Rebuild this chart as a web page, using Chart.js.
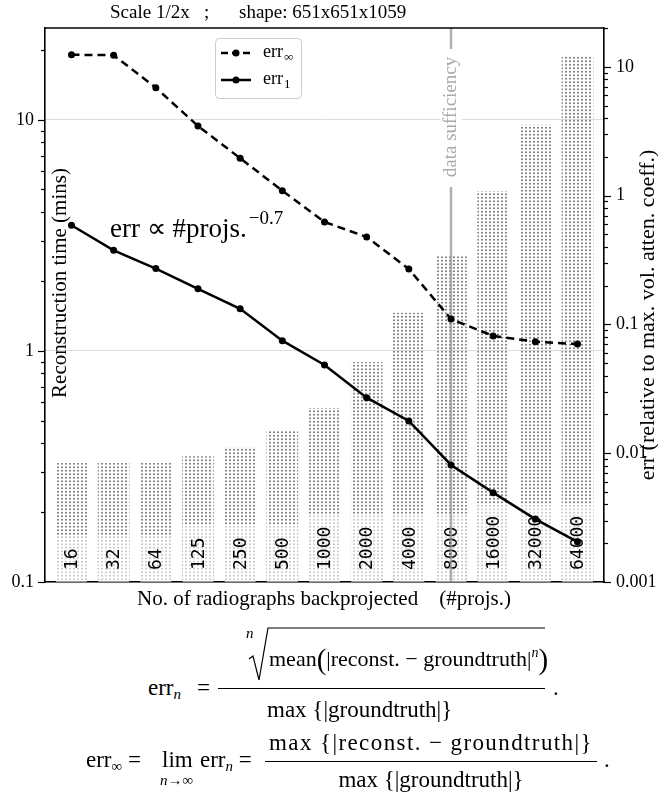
<!DOCTYPE html>
<html>
<head>
<meta charset="utf-8">
<script src="https://cdn.jsdelivr.net/npm/chart.js@4.4.0/dist/chart.umd.min.js"></script>
<style>
  html, body { margin: 0; padding: 0; background: #fff; }
  body { width: 658px; height: 794px; position: relative; overflow: hidden; font-family: "Liberation Serif", serif; color: #000; }
  #wrap { position: absolute; left: 0; top: 0; width: 658px; height: 615px; }
  .t { position: absolute; font-size: 23px; line-height: 23px; white-space: nowrap; }
  .t sub { font-size: 15px; vertical-align: -4px; line-height: 0; }
  .t sup { font-size: 14px; vertical-align: 9px; line-height: 0; }
  .sm { font-size: 15px; line-height: 15px; }
  .big { font-size: 29px; vertical-align: -3px; line-height: 0; }
  .c { text-align: center; }
  .bar { position: absolute; height: 1px; background: #000; }
</style>
</head>
<body>
<div id="wrap"><canvas id="chart" width="658" height="615"></canvas></div>

<!-- err_n definition -->
<span class="t" style="left:148px; top:676px;">err<sub><i>n</i></sub></span>
<span class="t" style="left:197px; top:676px;">=</span>
<svg style="position:absolute; left:0; top:0;" width="658" height="794">
  <polyline points="249,659 253,656 259,680 268,628 545,628" fill="none" stroke="#000" stroke-width="1.2"/>
</svg>
<span class="t sm" style="left:246px; top:626px;"><i>n</i></span>
<span class="t" style="left:269px; top:647px; font-size:22px;">mean<span class="big">(</span>|reconst. − groundtruth|<sup><i>n</i></sup><span class="big">)</span></span>
<div class="bar" style="left:218px; top:688px; width:327px;"></div>
<span class="t" style="left:267px; top:698px;">max {|groundtruth|}</span>
<span class="t" style="left:553px; top:676px;">.</span>

<!-- err_inf definition -->
<span class="t" style="left:86px; top:748px;">err<sub>∞</sub> =</span>
<span class="t" style="left:162px; top:748px;">lim</span>
<span class="t sm" style="left:160px; top:773px;"><i>n</i>→∞</span>
<span class="t" style="left:200px; top:748px;">err<sub><i>n</i></sub> =</span>
<div class="t c" style="left:265px; top:731px; width:332px; letter-spacing:1.4px;">max {|reconst. − groundtruth|}</div>
<div class="bar" style="left:265px; top:761px; width:332px;"></div>
<div class="t c" style="left:265px; top:768px; width:332px;">max {|groundtruth|}</div>
<span class="t" style="left:604px; top:748px;">.</span>

<script>
// ---------- chart values ----------
const projCounts = ['16', '32', '64', '125', '250', '500', '1000', '2000', '4000', '8000', '16000', '32000', '64000'];
const reconTimeMins = [0.327, 0.327, 0.327, 0.349, 0.383, 0.451, 0.565, 0.893, 1.46, 2.58, 4.90, 9.5, 18.8];
const errInf = [12.4, 12.3, 6.88, 3.47, 1.95, 1.09, 0.624, 0.477, 0.269, 0.110, 0.0813, 0.0734, 0.0704];
const errOne = [0.588, 0.376, 0.271, 0.189, 0.132, 0.0748, 0.0484, 0.027, 0.0178, 0.0081, 0.00494, 0.00308, 0.00205];
const leftTicks = [0.1, 1, 10];
const rightTicks = [0.001, 0.01, 0.1, 1, 10];
const sufficiencyIndex = 9;   // the 8000 column

const serif = '"Liberation Serif", serif';

// dotted fill for the time bars
const dots = (() => {
  const c = document.createElement('canvas');
  c.width = 4; c.height = 7;
  const g = c.getContext('2d');
  g.fillStyle = '#787878';
  [[2, 1.75], [2, 5.25]].forEach(([x, y]) => {
    g.beginPath(); g.arc(x, y, 1, 0, Math.PI * 2); g.fill();
  });
  return g.createPattern(c, 'repeat');
})();

// ---------- helpers for the drawing plugin ----------
function drawLogTicks(ctx, scale, x0, dir) {
  const lo = Math.floor(Math.log10(scale.min)), hi = Math.ceil(Math.log10(scale.max));
  ctx.strokeStyle = '#000';
  ctx.lineWidth = 1.2;
  for (let e = lo; e <= hi; e++) {
    for (let k = 1; k <= 9; k++) {
      const v = k * Math.pow(10, e);
      if (v < scale.min * 0.999 || v > scale.max) continue;
      const y = Math.round(scale.getPixelForValue(v)) + 0.5;
      const len = k === 1 ? 7 : 4;
      ctx.beginPath(); ctx.moveTo(x0, y); ctx.lineTo(x0 + dir * len, y); ctx.stroke();
    }
  }
}

function rotText(ctx, text, x, y, font, color) {
  ctx.save();
  ctx.translate(x, y);
  ctx.rotate(-Math.PI / 2);
  ctx.font = font;
  ctx.fillStyle = color;
  ctx.textAlign = 'center';
  ctx.textBaseline = 'middle';
  ctx.fillText(text, 0, 0);
  ctx.restore();
}

function errLabel(ctx, sub, x, y) {
  ctx.font = '18px ' + serif;
  ctx.textAlign = 'left';
  ctx.textBaseline = 'alphabetic';
  ctx.fillStyle = '#000';
  ctx.fillText('err', x, y);
  const w = ctx.measureText('err').width;
  ctx.font = '13px ' + serif;
  ctx.fillText(sub, x + w + 1, y + 4);
}

const decor = {
  id: 'decor',
  afterDatasetDraw(chart, args) {
    if (args.index !== 0) return;
    const ctx = chart.ctx, area = chart.chartArea;
    const meta = chart.getDatasetMeta(0);
    ctx.save();
    ctx.font = '18px "DejaVu Sans Mono", monospace';
    meta.data.forEach((bar, i) => {
      const label = projCounts[i];
      const tw = ctx.measureText(label).width;
      const start = area.bottom - 12;
      const boxTop = Math.max(bar.y, start - tw - 12);
      ctx.fillStyle = 'rgba(255,255,255,0.6)';
      ctx.fillRect(bar.x - bar.width / 2, boxTop, bar.width, area.bottom - boxTop);
      ctx.save();
      ctx.translate(bar.x, start);
      ctx.rotate(-Math.PI / 2);
      ctx.fillStyle = '#000';
      ctx.textAlign = 'left';
      ctx.textBaseline = 'middle';
      ctx.fillText(label, 0, 1);
      ctx.restore();
    });

    // data sufficiency marker
    const vx = chart.scales.x.getPixelForValue(sufficiencyIndex);
    ctx.strokeStyle = 'rgba(150,150,150,0.75)';
    ctx.lineWidth = 2.5;
    ctx.beginPath(); ctx.moveTo(vx, area.top); ctx.lineTo(vx, area.bottom); ctx.stroke();
    ctx.fillStyle = '#fff';
    ctx.fillRect(vx - 11, 49, 22, 138);
    rotText(ctx, 'data sufficiency', vx, 117, '19px ' + serif, '#aaaaaa');
    ctx.restore();
  },
  afterDraw(chart) {
    const ctx = chart.ctx, area = chart.chartArea;
    ctx.save();
    // top spine
    ctx.strokeStyle = '#000';
    ctx.lineWidth = 1.6;
    ctx.beginPath(); ctx.moveTo(area.left, area.top); ctx.lineTo(area.right, area.top); ctx.stroke();

    drawLogTicks(ctx, chart.scales.y, area.left, -1);
    drawLogTicks(ctx, chart.scales.y2, area.right, 1);

    // title
    ctx.font = '19px ' + serif;
    ctx.fillStyle = '#000';
    ctx.textBaseline = 'alphabetic';
    ctx.textAlign = 'left';
    ctx.fillText('Scale 1/2x', 110, 18);
    ctx.fillText(';', 204, 18);
    ctx.fillText('shape: 651x651x1059', 239, 18);

    // axis titles
    rotText(ctx, 'Reconstruction time (mins)', 60, 283, '21px ' + serif, '#000');
    rotText(ctx, 'err (relative to max. vol. atten. coeff.)', 648, 315, '22px ' + serif, '#000');
    ctx.font = '21px ' + serif;
    ctx.fillStyle = '#000';
    ctx.textAlign = 'center';
    ctx.textBaseline = 'alphabetic';
    ctx.fillText('No. of radiographs backprojected    (#projs.)', 324, 605);

    // power-law note
    ctx.textAlign = 'left';
    ctx.font = '27px ' + serif;
    ctx.fillText('err ∝ #projs.', 110, 237);
    const nw = ctx.measureText('err ∝ #projs.').width;
    ctx.font = '19px ' + serif;
    ctx.fillText('−0.7', 110 + nw + 2, 224);

    // legend
    ctx.beginPath();
    ctx.roundRect(215.5, 38.5, 86, 60, 4);
    ctx.fillStyle = 'rgba(255,255,255,0.85)';
    ctx.fill();
    ctx.strokeStyle = '#cccccc';
    ctx.lineWidth = 1;
    ctx.stroke();
    [[53, [7, 4], '∞'], [80, [], '1']].forEach(([y, dash, sub]) => {
      ctx.strokeStyle = '#000';
      ctx.lineWidth = 2.5;
      ctx.setLineDash(dash);
      ctx.beginPath(); ctx.moveTo(221, y); ctx.lineTo(251, y); ctx.stroke();
      ctx.setLineDash([]);
      ctx.fillStyle = '#000';
      ctx.beginPath(); ctx.arc(236, y, 3.5, 0, Math.PI * 2); ctx.fill();
      errLabel(ctx, sub, 263, y + 4);
    });
    ctx.restore();
  }
};

const tickFont = { family: serif, size: 18 };

new Chart(document.getElementById('chart'), {
  data: {
    datasets: [
      {
        type: 'bar',
        label: 'time',
        data: reconTimeMins.map((v, i) => ({ x: i, y: v })),
        yAxisID: 'y',
        backgroundColor: dots,
        borderWidth: 0,
        barThickness: 31,
        order: 2
      },
      {
        type: 'line',
        label: 'err∞',
        data: errInf.map((v, i) => ({ x: i, y: v })),
        yAxisID: 'y2',
        borderColor: '#000',
        backgroundColor: '#000',
        borderWidth: 2.5,
        borderDash: [8, 5],
        pointRadius: 3.5,
        pointBackgroundColor: '#000',
        pointBorderWidth: 0,
        tension: 0,
        order: 1
      },
      {
        type: 'line',
        label: 'err1',
        data: errOne.map((v, i) => ({ x: i, y: v })),
        yAxisID: 'y2',
        borderColor: '#000',
        backgroundColor: '#000',
        borderWidth: 2.5,
        pointRadius: 3.5,
        pointBackgroundColor: '#000',
        pointBorderWidth: 0,
        tension: 0,
        order: 0
      }
    ]
  },
  options: {
    responsive: false,
    animation: false,
    layout: { padding: { top: 28, left: 0, right: 0, bottom: 0 } },
    plugins: { legend: { display: false }, tooltip: { enabled: false } },
    scales: {
      x: {
        type: 'linear',
        offset: false,
        min: -0.628,
        max: 12.628,
        ticks: { display: false },
        grid: { display: false },
        border: { display: true, color: '#000', width: 1.6 },
        afterFit(s) { s.height = 33; }
      },
      y: {
        type: 'logarithmic',
        position: 'left',
        min: 0.1,
        max: 25,
        afterBuildTicks(s) { s.ticks = leftTicks.map(v => ({ value: v, major: true })); },
        ticks: { autoSkip: false, font: tickFont, color: '#000', padding: 11, callback: v => String(v) },
        grid: { color: '#dcdcdc', lineWidth: 1, drawTicks: false },
        border: { color: '#000', width: 1.6 },
        afterFit(s) { s.width = 45; }
      },
      y2: {
        type: 'logarithmic',
        position: 'right',
        min: 0.001,
        max: 20,
        afterBuildTicks(s) { s.ticks = rightTicks.map(v => ({ value: v, major: true })); },
        ticks: { autoSkip: false, font: tickFont, color: '#000', padding: 12, callback: v => String(v) },
        grid: { drawOnChartArea: false, drawTicks: false },
        border: { color: '#000', width: 1.6 },
        afterFit(s) { s.width = 54; }
      }
    }
  },
  plugins: [decor]
});
</script>
</body>
</html>
